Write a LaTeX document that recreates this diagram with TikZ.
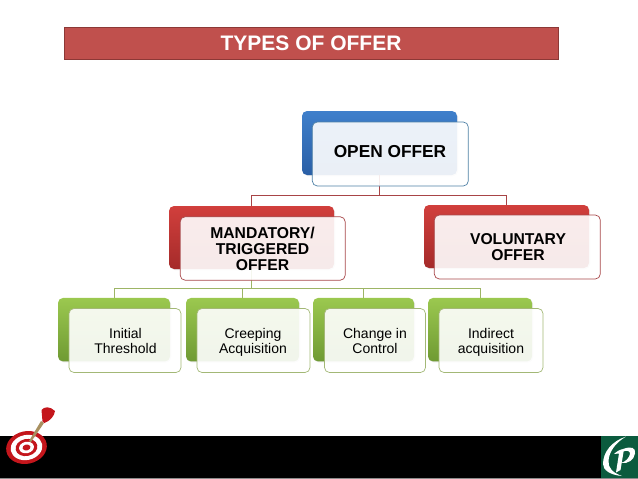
\documentclass[tikz,border=0pt]{standalone}
\usepackage{fontspec}
\setmainfont{Liberation Sans}
\usetikzlibrary{shadows}
\tikzset{
  backbox/.style={rounded corners=5pt,inner sep=0pt,draw=none,drop shadow={opacity=.18,shadow xshift=1pt,shadow yshift=-1pt}},
  frontbox/.style={rounded corners=5pt,inner sep=0pt,fill=white,fill opacity=.9,text opacity=1,align=center,line width=.7pt},
  link/.style={line width=.7pt},
  bluelink/.style={link,draw=linkred},
  greenlink/.style={link,draw=linkgreen},
  bluefront/.style={frontbox,draw=frontblue},
  redfront/.style={frontbox,draw=frontred},
  greenfront/.style={frontbox,draw=frontgreen},
  blueback/.style={backbox,top color=backblueA,bottom color=backblueB},
  redback/.style={backbox,top color=backredA,bottom color=backredB},
  greenback/.style={backbox,top color=backgreenA,bottom color=backgreenB},
  headtext/.style={font=\bfseries\fontsize{15.7}{16}\selectfont},
  opentext/.style={font=\bfseries\fontsize{17.3}{18}\selectfont},
  leaftext/.style={font=\fontsize{14}{15}\selectfont},
}
\definecolor{backblueA}{HTML}{3F7FCB}
\definecolor{backblueB}{HTML}{2A5FA6}
\definecolor{backredA}{HTML}{D13F3C}
\definecolor{backredB}{HTML}{A52B2A}
\definecolor{backgreenA}{HTML}{9BC84F}
\definecolor{backgreenB}{HTML}{6F9A33}
\definecolor{frontblue}{HTML}{4F81A6}
\definecolor{frontred}{HTML}{A8484A}
\definecolor{frontgreen}{HTML}{A3B876}
\definecolor{linkred}{HTML}{A84446}
\definecolor{linkgreen}{HTML}{9DB565}
\definecolor{titlefill}{HTML}{C0504D}
\definecolor{titleline}{HTML}{8C3836}
\definecolor{logogreen}{HTML}{0B5B3E}
\definecolor{dartred}{HTML}{C4161C}
\definecolor{darttan}{HTML}{A89060}
\begin{document}
\begin{tikzpicture}[x=1pt,y=-1pt]
\useasboundingbox (0,0) rectangle (638,479);
% footer
\fill[black] (0,436) rectangle (638,478);
\fill[black!45] (0,478) rectangle (638,479);
% title
\node[name=title,draw=titleline,fill=titlefill,line width=1pt,minimum width=494pt,minimum height=32pt,inner sep=0pt] at (311,43) {};
\node[name=titletext,text=white,font=\bfseries\fontsize{21}{22}\selectfont] at (311,43.5) {TYPES OF OFFER};
% back boxes
\node[blueback,minimum width=155pt,minimum height=64pt] (openb) at (379.5,143) {};
\node[redback,minimum width=165pt,minimum height=63pt] (mandb) at (251.5,237.5) {};
\node[redback,minimum width=165pt,minimum height=63pt] (volb) at (506.5,236.5) {};
\node[greenback,minimum width=112pt,minimum height=63.5pt] (l1b) at (114,329.7) {};
\node[greenback,minimum width=113pt,minimum height=63.5pt] (l2b) at (242.5,329.7) {};
\node[greenback,minimum width=101pt,minimum height=63.5pt] (l3b) at (363.5,329.7) {};
\node[greenback,minimum width=104pt,minimum height=63.5pt] (l4b) at (480,329.7) {};
% connectors
\draw[bluelink] (openb.south) -- (379.5,195) -| (mandb.north);
\draw[bluelink] (openb.south) -- (379.5,195) -| (volb.north);
\draw[greenlink] (mandb.south) -- (251.5,288) -| (l1b.north);
\draw[greenlink] (mandb.south) -- (251.5,288) -| (l2b.north);
\draw[greenlink] (mandb.south) -- (251.5,288) -| (l3b.north);
\draw[greenlink] (mandb.south) -- (251.5,288) -| (l4b.north);
% front boxes
\node[bluefront,minimum width=156pt,minimum height=64pt] (open) at (390.3,154) {};
\node[opentext] (opent) at (390,152) {OPEN OFFER};
\node[redfront,minimum width=165pt,minimum height=63.5pt] (mand) at (262.7,248.5) {};
\node[headtext,align=center] (mandt) at (262.5,248.5) {MANDATORY/\\TRIGGERED\\OFFER};
\node[redfront,minimum width=166pt,minimum height=64pt] (vol) at (517.3,247) {};
\node[headtext,align=center] (volt) at (518,247) {VOLUNTARY\\OFFER};
\node[greenfront,minimum width=112pt,minimum height=64pt] (l1) at (125,340.5) {};
\node[leaftext,align=center] (l1t) at (125.5,342.5) {\strut Initial\\\strut Threshold};
\node[greenfront,minimum width=113pt,minimum height=64pt] (l2) at (253.5,340.5) {};
\node[leaftext,align=center] (l2t) at (253,342.5) {\strut Creeping\\\strut Acquisition};
\node[greenfront,minimum width=101pt,minimum height=64pt] (l3) at (375,340.5) {};
\node[leaftext,align=center] (l3t) at (375,342.5) {\strut Change in\\\strut Control};
\node[greenfront,minimum width=104pt,minimum height=64pt] (l4) at (491,340.5) {};
\node[leaftext,align=center] (l4t) at (491,342.5) {\strut Indirect\\\strut acquisition};
% target
\begin{scope}[shift={(26.5,447.5)},rotate=12]
\fill[dartred] (0,0) ellipse [x radius=20.5,y radius=16.3];
\fill[white] (0,0) ellipse [x radius=16,y radius=12.5];
\fill[dartred] (0,0) ellipse [x radius=11,y radius=8.5];
\fill[white] (0,0) ellipse [x radius=7.5,y radius=5.7];
\fill[dartred] (0,0) ellipse [x radius=4,y radius=3];
\end{scope}
\fill[darttan] (29,441) -- (41,421) -- (44,423) -- (31,442) -- cycle;
\fill[dartred] (42.5,421.5) -- (41.5,410) .. controls (44,406.5) and (50,406) .. (55,411)
  .. controls (54.5,416) and (50,421) .. (44.5,423) -- cycle;
% logo
\fill[logogreen] (600.5,435.7) rectangle (638,478);
\fill[white] (626,436.6) .. controls (612,441) and (603,452) .. (603,464)
  .. controls (603,470) and (610,475) .. (622,476)
  .. controls (613,473) and (608,468) .. (608.5,461)
  .. controls (609,452) and (615,443) .. (626,436.6) -- cycle;
\fill[white] (614,454) .. controls (617,451) and (621,449) .. (624,449)
  -- (620.5,470) -- (616,472.5) -- (619,453.5) .. controls (617,453.5) and (615.5,454) .. (614,454) -- cycle;
\fill[white] (623,449) .. controls (631,446) and (636,447.5) .. (635,453.5)
  .. controls (634,460) and (628,464) .. (621,463)
  .. controls (626,461.5) and (629,458) .. (630,454)
  .. controls (630.5,451) and (627,450) .. (623,451.5) -- cycle;
\end{tikzpicture}
\end{document}
